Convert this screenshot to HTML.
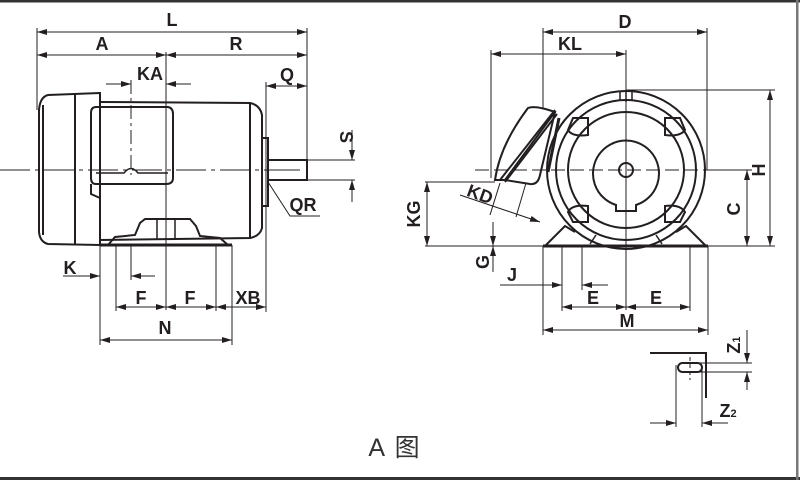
<!DOCTYPE html>
<html><head><meta charset="utf-8"><style>
html,body{margin:0;padding:0;background:#fff}
svg{display:block}
.t{font-family:"Liberation Sans",sans-serif;font-weight:bold;font-size:18px;fill:#231f20}
</style></head><body>
<svg width="800" height="480" viewBox="0 0 800 480" xmlns="http://www.w3.org/2000/svg">
<defs>
<marker id="a" viewBox="0 0 10 6" refX="10" refY="3" markerWidth="10" markerHeight="6" orient="auto-start-reverse" markerUnits="userSpaceOnUse"><path d="M0,0 L10,3 L0,6 Z" fill="#231f20"/></marker>
</defs>
<rect x="0" y="0" width="800" height="2.5" fill="#333"/>
<rect x="0" y="477" width="800" height="3" fill="#333"/>
<rect x="796" y="0" width="2.5" height="480" fill="#777"/>

<g stroke="#231f20" fill="none" stroke-width="1">
<line x1="37" y1="32" x2="307" y2="32" marker-start="url(#a)" marker-end="url(#a)"/>
<line x1="37" y1="55" x2="166" y2="55" marker-start="url(#a)" marker-end="url(#a)"/>
<line x1="166" y1="55" x2="307" y2="55" marker-start="url(#a)" marker-end="url(#a)"/>
<line x1="37" y1="28" x2="37" y2="110"/>
<line x1="307" y1="28" x2="307" y2="175"/>
<line x1="106" y1="84" x2="131" y2="84" marker-end="url(#a)"/>
<line x1="191" y1="84" x2="166" y2="84" marker-end="url(#a)"/>
<line x1="131" y1="80" x2="131" y2="175" stroke-dasharray="14,4,3,4"/>
<line x1="166" y1="52" x2="166" y2="310"/>
<line x1="266" y1="86" x2="307" y2="86" marker-start="url(#a)" marker-end="url(#a)"/>
<line x1="266" y1="82" x2="266" y2="312"/>
<line x1="0" y1="170" x2="300" y2="170" stroke-dasharray="30,5,4,5"/>
<line x1="300" y1="160" x2="355" y2="160"/>
<line x1="300" y1="180" x2="355" y2="180"/>
<line x1="352" y1="130" x2="352" y2="160" marker-end="url(#a)"/>
<line x1="352" y1="202" x2="352" y2="180" marker-end="url(#a)"/>
<polyline points="268,182 290,216 320,216"/>
<line x1="100" y1="245" x2="100" y2="345"/>
<line x1="116" y1="245" x2="116" y2="311"/>
<line x1="131" y1="245" x2="131" y2="280"/>
<line x1="216" y1="245" x2="216" y2="311"/>
<line x1="232" y1="245" x2="232" y2="345"/>
<line x1="63" y1="276" x2="100" y2="276" marker-end="url(#a)"/>
<line x1="155" y1="276" x2="131" y2="276" marker-end="url(#a)"/>
<line x1="116" y1="307" x2="166" y2="307" marker-start="url(#a)" marker-end="url(#a)"/>
<line x1="166" y1="307" x2="216" y2="307" marker-start="url(#a)" marker-end="url(#a)"/>
<line x1="216" y1="307" x2="266" y2="307" marker-start="url(#a)" marker-end="url(#a)"/>
<line x1="100" y1="340" x2="232" y2="340" marker-start="url(#a)" marker-end="url(#a)"/>
</g>
<g stroke="#231f20" fill="none" stroke-width="2">
<path d="M100,93 L48,95 Q40,97 39,110 L39,232 Q40,242 48,244 L100,245 Z"/>
<line x1="43" y1="105" x2="43" y2="235"/>
<line x1="75" y1="93" x2="75" y2="244"/>
<path d="M100,102 L250,103 L250,238 L100,240"/>
<path d="M250,103 Q260,105 262,115 L262,228 Q260,236 250,238"/>
<rect x="262" y="138" width="6" height="68"/>
<rect x="268" y="160" width="39" height="20"/>
<line x1="272" y1="170" x2="300" y2="170" stroke-width="1"/>
<path d="M96,107 L168,107 Q173,108 173,114 L173,178 Q173,184 166,184 L96,184 Q91,184 91,178 L91,113 Q91,107 96,107 Z"/>
<path d="M96,173 L124,173 Q131,164 138,173 L168,173" stroke-width="1.5"/>
<path d="M91,184 L91,194 L100,198"/>
<path d="M100,245 L232,245" stroke-width="3"/>
<path d="M108,245 L115,237 L135,235 L140,223 L145,219 L190,219 L196,226 L200,236 L220,238 L228,245"/>
<line x1="157" y1="219" x2="157" y2="240" stroke-width="1.5"/>
<line x1="175" y1="219" x2="175" y2="240" stroke-width="1.5"/>
</g>

<g stroke="#231f20" fill="none" stroke-width="1">
<line x1="543" y1="32" x2="707" y2="32" marker-start="url(#a)" marker-end="url(#a)"/>
<line x1="543" y1="28" x2="543" y2="108"/>
<line x1="707" y1="28" x2="707" y2="170"/>
<line x1="491" y1="54" x2="626" y2="54" marker-start="url(#a)" marker-end="url(#a)"/>
<line x1="491" y1="50" x2="491" y2="178"/>
<line x1="626" y1="50" x2="626" y2="310"/>
<line x1="475" y1="170" x2="720" y2="170" stroke-dasharray="14,5"/>
<line x1="626" y1="90" x2="775" y2="90"/>
<line x1="705" y1="170" x2="752" y2="170"/>
<line x1="425" y1="246" x2="775" y2="246"/>
<line x1="770" y1="90" x2="770" y2="246" marker-start="url(#a)" marker-end="url(#a)"/>
<line x1="747" y1="170" x2="747" y2="246" marker-start="url(#a)" marker-end="url(#a)"/>
<line x1="425" y1="182" x2="495" y2="182"/>
<line x1="427" y1="182" x2="427" y2="246" marker-start="url(#a)" marker-end="url(#a)"/>
<line x1="493" y1="222" x2="493" y2="246" marker-end="url(#a)"/>
<line x1="493" y1="272" x2="493" y2="246" marker-end="url(#a)"/>
<line x1="460" y1="195" x2="540" y2="222" marker-end="url(#a)"/>
<line x1="500" y1="183" x2="490" y2="215"/>
<line x1="526" y1="183" x2="516" y2="217"/>
<line x1="562" y1="246" x2="562" y2="311"/>
<line x1="582" y1="246" x2="582" y2="290"/>
<line x1="690" y1="246" x2="690" y2="311"/>
<line x1="543" y1="246" x2="543" y2="335"/>
<line x1="708" y1="246" x2="708" y2="335"/>
<line x1="500" y1="285" x2="562" y2="285" marker-end="url(#a)"/>
<line x1="608" y1="285" x2="582" y2="285" marker-end="url(#a)"/>
<line x1="562" y1="307" x2="626" y2="307" marker-start="url(#a)" marker-end="url(#a)"/>
<line x1="626" y1="307" x2="690" y2="307" marker-start="url(#a)" marker-end="url(#a)"/>
<line x1="543" y1="330" x2="708" y2="330" marker-start="url(#a)" marker-end="url(#a)"/>
<line x1="676" y1="365" x2="676" y2="427"/>
<line x1="702" y1="365" x2="702" y2="427"/>
<line x1="650" y1="423" x2="676" y2="423" marker-end="url(#a)"/>
<line x1="728" y1="423" x2="702" y2="423" marker-end="url(#a)"/>
<line x1="690" y1="357" x2="690" y2="380" stroke-dasharray="4,3"/>
<line x1="698" y1="363" x2="752" y2="363"/>
<line x1="698" y1="372" x2="752" y2="372"/>
<line x1="747" y1="330" x2="747" y2="363" marker-end="url(#a)"/>
<line x1="747" y1="390" x2="747" y2="372" marker-end="url(#a)"/>
</g>
<g stroke="#231f20" fill="none" stroke-width="2">
<circle cx="626" cy="170" r="79"/>
<circle cx="626" cy="170" r="70"/>
<circle cx="626" cy="170" r="58"/>
<path d="M616,205 A33,33 0 1 1 636,205 L636,211 L616,211 Z"/>
<circle cx="626" cy="170" r="7"/>
<path d="M626,91 L626,102 M620,91 L620,101 M632,91 L632,101" stroke-width="1.5"/>
<path d="M573,118 L588,118 L588,135 Q572,137 568,130 Z"/>
<path d="M665,118 L680,118 L685,130 Q680,137 665,135 Z"/>
<path d="M573,222 L588,222 L588,206 Q572,204 568,212 Z"/>
<path d="M665,222 L680,222 L685,212 Q680,204 665,206 Z"/>
<path d="M543,246 L708,246" stroke-width="3"/>
<path d="M545,246 L565,226 L575,232 M706,246 L686,226 L676,232"/>
<path d="M590,244 L596,235 M662,244 L656,235" stroke-width="1.5"/>
<path d="M495,180 Q500,145 528,108 Q535,105 555,112 L505,180 Z"/>
<path d="M500,180 L555,110 M505,182 L557,114"/>
<path d="M555,112 L540,175 Q538,185 530,184 L505,180"/>
<path d="M559,118 L548,172" stroke-width="3"/>
<polyline points="650,353 706,353 706,398"/>
<rect x="678" y="363" width="24" height="9" rx="4.5"/>
</g>

<g class="t">
<text x="172" y="26" text-anchor="middle">L</text>
<text x="102" y="50" text-anchor="middle">A</text>
<text x="236" y="50" text-anchor="middle">R</text>
<text x="150" y="80" text-anchor="middle">KA</text>
<text x="287" y="81" text-anchor="middle">Q</text>
<text x="346" y="137" text-anchor="middle" transform="rotate(90 346 137)" dy="6">S</text>
<text x="303" y="211" text-anchor="middle">QR</text>
<text x="70" y="274" text-anchor="middle">K</text>
<text x="141" y="304" text-anchor="middle">F</text>
<text x="190" y="304" text-anchor="middle">F</text>
<text x="248" y="304" text-anchor="middle">XB</text>
<text x="165" y="334" text-anchor="middle">N</text>
<text x="625" y="28" text-anchor="middle">D</text>
<text x="570" y="50" text-anchor="middle">KL</text>
<text x="478" y="200" text-anchor="middle" transform="rotate(20 478 200)">KD</text>
<text x="420" y="214" text-anchor="middle" transform="rotate(-90 420 214)">KG</text>
<text x="489" y="262" text-anchor="middle" transform="rotate(-90 489 262)">G</text>
<text x="512" y="281" text-anchor="middle">J</text>
<text x="593" y="304" text-anchor="middle">E</text>
<text x="656" y="304" text-anchor="middle">E</text>
<text x="627" y="327" text-anchor="middle">M</text>
<text x="740" y="209" text-anchor="middle" transform="rotate(-90 740 209)">C</text>
<text x="765" y="170" text-anchor="middle" transform="rotate(-90 765 170)">H</text>
<text x="740" y="345" text-anchor="middle" transform="rotate(-90 740 345)">Z<tspan font-size="11">1</tspan></text>
<text x="728" y="417" text-anchor="middle">Z<tspan font-size="11">2</tspan></text>
</g>
<text x="395" y="456" text-anchor="middle" font-family="'Liberation Sans','Noto Sans CJK SC',sans-serif" font-size="25" letter-spacing="2" fill="#333">A 图</text>
</svg>
</body></html>
